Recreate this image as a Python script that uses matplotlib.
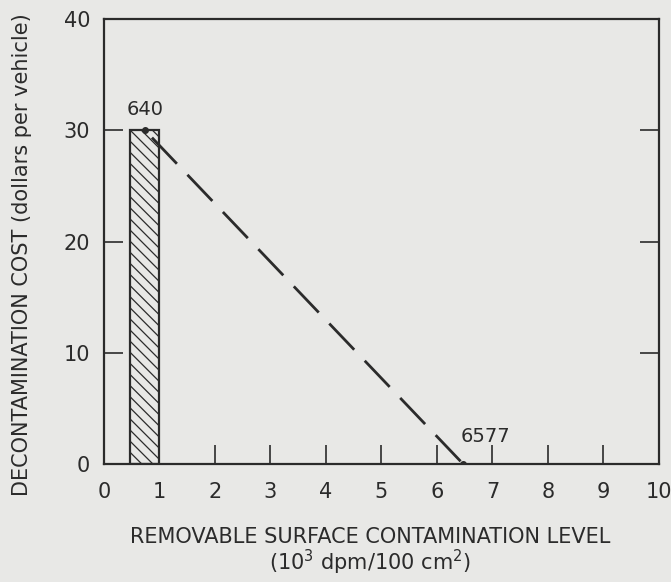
import matplotlib.pyplot as plt

# hatched band (range of contamination levels) and cost line
bar_left = 0.47
bar_right = 1.0
bar_cost = 30

line_x = [0.74, 6.47]
line_y = [30, 0]
point_labels = ['640', '6577']

x_ticks = list(range(0, 11))
y_ticks = [0, 10, 20, 30, 40]

ink = '#2b2b2b'
paper = '#e8e8e6'

plt.rcParams['font.family'] = ['DejaVu Sans']
plt.rcParams['hatch.linewidth'] = 0.9

fig = plt.figure(figsize=(6.71, 5.82), dpi=100, facecolor=paper)
ax = fig.add_axes([0.155, 0.203, 0.827, 0.764])
ax.set_facecolor(paper)

ax.bar(bar_left, bar_cost, width=bar_right - bar_left, align='edge',
       facecolor='none', edgecolor=ink, linewidth=1.6, hatch='\\\\\\')

ax.plot(line_x, line_y, color=ink, linewidth=2.0,
        linestyle=(14.9, (13, 5.5)), zorder=3)
ax.plot(line_x, line_y, 'o', color=ink, markersize=4, zorder=4)

ax.annotate(point_labels[0], (line_x[0], line_y[0]), xytext=(0, 8),
            textcoords='offset points', ha='center', va='bottom',
            fontsize=14, color=ink)
ax.annotate(point_labels[1], (line_x[1], line_y[1]), xytext=(16, 13),
            textcoords='offset points', ha='center', va='bottom',
            fontsize=14, color=ink)

ax.set_xlim(0, 10)
ax.set_ylim(0, 40)
ax.set_xticks(x_ticks)
ax.set_yticks(y_ticks)

for s in ax.spines.values():
    s.set_color(ink)
    s.set_linewidth(1.6)

ax.tick_params(axis='x', direction='in', length=14, width=1.2, color=ink,
               labelsize=15, labelcolor=ink, pad=13)
ax.tick_params(axis='y', direction='in', length=14, width=1.2, color=ink,
               labelsize=15, labelcolor=ink, pad=10, right=True)

fig.text(0.551, 0.077, 'REMOVABLE SURFACE CONTAMINATION LEVEL',
         ha='center', va='center', fontsize=15, color=ink)
fig.text(0.551, 0.034, '(10$^3$ dpm/100 cm$^2$)',
         ha='center', va='center', fontsize=15, color=ink)
fig.text(0.033, 0.563, 'DECONTAMINATION COST (dollars per vehicle)',
         ha='center', va='center', rotation=90, fontsize=15, color=ink)

fig.savefig('out.png', dpi=100, facecolor=paper)
